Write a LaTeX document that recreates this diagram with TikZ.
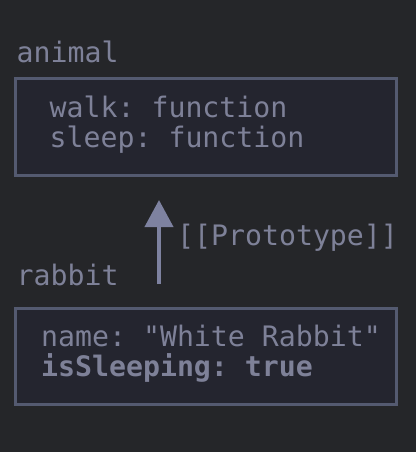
\documentclass[tikz,border=0pt]{standalone}
\usepackage{fontspec}
\setmonofont{DejaVu Sans Mono}
\usepackage{tikz}
\usetikzlibrary{arrows.meta}

\definecolor{bg}{HTML}{252629}
\definecolor{boxfill}{HTML}{24252F}
\definecolor{boxline}{HTML}{545A70}
\definecolor{ink}{HTML}{7E8198}
\definecolor{arrowink}{HTML}{7E82A0}

\tikzset{
	txt/.style={anchor=base west, inner sep=0pt, text=ink, font=\fontsize{28.2}{30}\selectfont\ttfamily},
	objbox/.style={draw=boxline, fill=boxfill, line width=3pt},
	protoarrow/.style={draw=arrowink, line width=4pt, -{Triangle[width=28pt,length=27pt]}}
}

\begin{document}
\begin{tikzpicture}[x=1pt,y=-1pt]
	\fill[bg] (0,0) rectangle (416,452);
	\useasboundingbox (0,0) rectangle (416,452);
	
	% object boxes
	\draw[objbox] (15.5,78.5) rectangle (396.5,175);
	\draw[objbox] (15.5,308.5) rectangle (396.5,404.5);
	
	% animal
	\node[txt] (animal) at (16.5,63) {animal};
	\node[txt] (walk) at (49.5,117) {walk: function};
	\node[txt] (sleep) at (49.5,147) {sleep: function};
	
	% rabbit
	\node[txt] (rabbit) at (16.5,285) {rabbit};
	\node[txt] (name) at (41,346.5) {name: "White Rabbit"};
	\node[txt,font=\fontsize{28.2}{30}\selectfont\ttfamily\bfseries] (sleeping) at (41,376.5) {isSleeping: true};
	
	% prototype link
	\coordinate (from) at (159,284);
	\coordinate (to) at (159,200);
	\draw[protoarrow] (from) -- (to);
	\node[txt] (proto) at (177,245.5) {[[Prototype]]};
\end{tikzpicture}
\end{document}
